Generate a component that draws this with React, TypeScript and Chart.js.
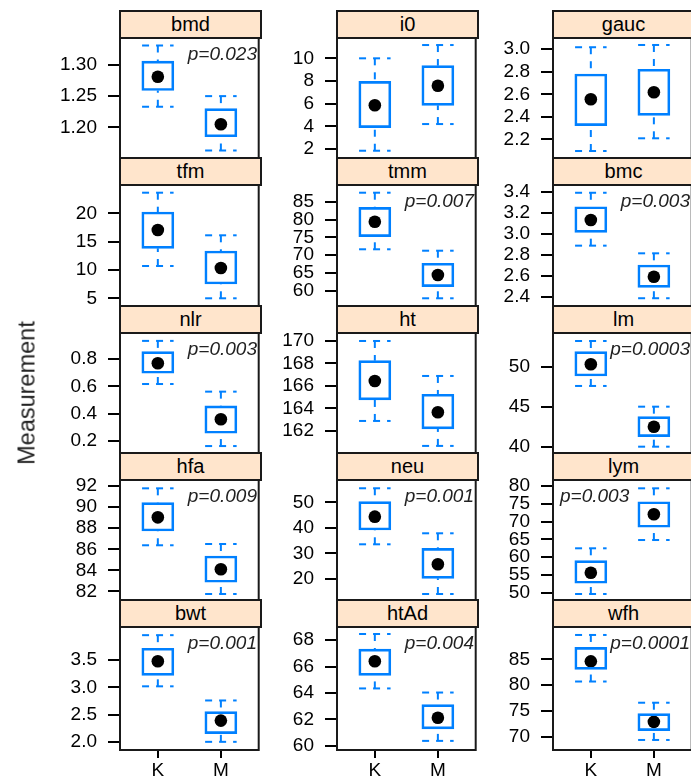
import React, { useEffect, useRef } from 'react';
import { Chart, registerables } from 'chart.js';

Chart.register(...registerables);

// ---------- data ----------
const groups = ['K', 'M'];
const yAxisTitle = 'Measurement';

// five-number summaries: [lower whisker, Q1, median, Q3, upper whisker]
const bmdK = [1.233, 1.259, 1.281, 1.306, 1.331];
const bmdM = [1.163, 1.185, 1.205, 1.23, 1.25];
const i0K = [1.86, 3.89, 5.86, 7.97, 10.0];
const i0M = [4.21, 5.86, 7.59, 9.35, 11.17];
const gaucK = [2.096, 2.321, 2.556, 2.78, 3.018];
const gaucM = [2.209, 2.413, 2.618, 2.822, 3.038];
const tfmK = [10.7, 13.82, 17.05, 20.23, 23.64];
const tfmM = [5.0, 7.52, 10.35, 13.35, 16.12];
const tmmK = [71.67, 75.2, 79.4, 83.43, 87.52];
const tmmM = [57.94, 61.2, 64.47, 67.75, 71.27];
const bmcK = [2.886, 3.013, 3.13, 3.257, 3.39];
const bmcM = [2.385, 2.489, 2.59, 2.702, 2.813];
const nlrK = [0.618, 0.697, 0.771, 0.856, 0.935];
const nlrM = [0.162, 0.256, 0.359, 0.457, 0.562];
const htK = [162.89, 164.76, 166.44, 168.25, 170.0];
const htM = [160.67, 162.18, 163.66, 165.26, 166.89];
const lmK = [47.59, 48.84, 50.3, 51.88, 53.21];
const lmM = [40.0, 41.25, 42.5, 43.75, 45.0];
const hfaK = [86.38, 87.73, 89.03, 90.42, 91.78];
const hfaM = [81.76, 82.87, 84.1, 85.36, 86.5];
const neuK = [33.59, 39.18, 44.38, 50.23, 55.47];
const neuM = [14.18, 20.31, 25.78, 32.03, 37.89];
const lymK = [49.63, 52.64, 55.62, 59.0, 62.48];
const lymM = [64.81, 68.39, 72.04, 75.58, 79.35];
const bwtK = [3.02, 3.22, 3.48, 3.72, 3.96];
const bwtM = [2.0, 2.15, 2.39, 2.556, 2.76];
const htAdK = [64.34, 65.33, 66.4, 67.31, 68.46];
const htAdM = [60.37, 61.28, 62.12, 63.11, 64.03];
const wfhK = [80.7, 83.05, 84.6, 87.3, 89.7];
const wfhM = [69.4, 71.2, 72.9, 74.5, 76.6];

// y tick labels per panel
const bmdTicks = ['1.20', '1.25', '1.30'];
const i0Ticks = ['2', '4', '6', '8', '10'];
const gaucTicks = ['2.2', '2.4', '2.6', '2.8', '3.0'];
const tfmTicks = ['5', '10', '15', '20'];
const tmmTicks = ['60', '65', '70', '75', '80', '85'];
const bmcTicks = ['2.4', '2.6', '2.8', '3.0', '3.2', '3.4'];
const nlrTicks = ['0.2', '0.4', '0.6', '0.8'];
const htTicks = ['162', '164', '166', '168', '170'];
const lmTicks = ['40', '45', '50'];
const hfaTicks = ['82', '84', '86', '88', '90', '92'];
const neuTicks = ['20', '30', '40', '50'];
const lymTicks = ['50', '55', '60', '65', '70', '75', '80'];
const bwtTicks = ['2.0', '2.5', '3.0', '3.5'];
const htAdTicks = ['60', '62', '64', '66', '68'];
const wfhTicks = ['70', '75', '80', '85'];

// y ranges per panel
const bmdRange = [1.151, 1.343];
const i0Range = [1.22, 11.79];
const gaucRange = [2.034, 3.1];
const tfmRange = [3.64, 25.0];
const tmmRange = [55.78, 89.68];
const bmcRange = [2.311, 3.464];
const nlrRange = [0.111, 0.993];
const htRange = [160.04, 170.71];
const lmRange = [39.21, 54.21];
const hfaRange = [81.19, 92.57];
const neuRange = [11.84, 58.7];
const lymRange = [47.94, 81.69];
const bwtRange = [1.85, 4.11];
const htAdRange = [59.68, 68.99];
const wfhRange = [67.46, 91.24];

const panelNames = ['bmd', 'i0', 'gauc', 'tfm', 'tmm', 'bmc', 'nlr', 'ht', 'lm', 'hfa', 'neu', 'lym', 'bwt', 'htAd', 'wfh'];
const pValues = ['p=0.023', '', '', '', 'p=0.007', 'p=0.003', 'p=0.003', '', 'p=0.0003', 'p=0.009', 'p=0.001', 'p=0.003', 'p=0.001', 'p=0.004', 'p=0.0001'];

const panelStats = [
  [bmdK, bmdM], [i0K, i0M], [gaucK, gaucM],
  [tfmK, tfmM], [tmmK, tmmM], [bmcK, bmcM],
  [nlrK, nlrM], [htK, htM], [lmK, lmM],
  [hfaK, hfaM], [neuK, neuM], [lymK, lymM],
  [bwtK, bwtM], [htAdK, htAdM], [wfhK, wfhM],
];
const panelTicks = [bmdTicks, i0Ticks, gaucTicks, tfmTicks, tmmTicks, bmcTicks, nlrTicks, htTicks, lmTicks, hfaTicks, neuTicks, lymTicks, bwtTicks, htAdTicks, wfhTicks];
const panelRanges = [bmdRange, i0Range, gaucRange, tfmRange, tmmRange, bmcRange, nlrRange, htRange, lmRange, hfaRange, neuRange, lymRange, bwtRange, htAdRange, wfhRange];

// ---------- layout / style ----------
const COL_LEFT = [120, 337, 553];
const PANEL_W = 141;
const STRIP_TOP = [11, 158, 306, 453, 600];
const STRIP_H = 27;
const PLOT_BOTTOM = [158, 306, 453, 600, 750];
const AXW = 100;
const PADT = 14;
const PADB = 14;
const PADR = 4;
const XAXH = 34;
const BLUE = '#0080ff';
const FONT = '"Liberation Sans", Arial, sans-serif';
const TICK_SIZE = 19;

type PanelProps = { idx: number };

function Panel({ idx }: PanelProps) {
  const ref = useRef<HTMLCanvasElement | null>(null);
  const row = Math.floor(idx / 3);
  const col = idx % 3;
  const isBottom = row === 4;
  const plotTop = STRIP_TOP[row] + STRIP_H;
  const plotH = PLOT_BOTTOM[row] - plotTop;
  const cw = AXW + PANEL_W + PADR;
  const ch = PADT + plotH + (isBottom ? XAXH : PADB);
  const stats = panelStats[idx];
  const ticks = panelTicks[idx];
  const range = panelRanges[idx];

  useEffect(() => {
    const canvas = ref.current;
    if (!canvas) return;
    const boxPx = (PANEL_W * 0.5) / 2.2;
    const boxPlugin = {
      id: 'bwWhiskers',
      beforeDatasetsDraw(chart: any) {
        const ctx = chart.ctx;
        const xs = chart.scales.x;
        const ys = chart.scales.y;
        ctx.save();
        ctx.strokeStyle = BLUE;
        ctx.lineWidth = 2;
        ctx.setLineDash([7, 7]);
        const seg = (x1: number, y1: number, x2: number, y2: number) => {
          ctx.beginPath();
          ctx.moveTo(x1, y1);
          ctx.lineTo(x2, y2);
          ctx.stroke();
        };
        stats.forEach((s: number[], i: number) => {
          const cx = xs.getPixelForValue(i + 1);
          const l = xs.getPixelForValue(i + 1 - 0.25);
          const r = xs.getPixelForValue(i + 1 + 0.25);
          const yLo = ys.getPixelForValue(s[0]);
          const yQ1 = ys.getPixelForValue(s[1]);
          const yQ3 = ys.getPixelForValue(s[3]);
          const yHi = ys.getPixelForValue(s[4]);
          seg(cx, yHi, cx, yQ3);
          seg(cx, yLo, cx, yQ1);
          seg(l, yHi, r, yHi);
          seg(l, yLo, r, yLo);
        });
        ctx.restore();
      },
      afterDraw(chart: any) {
        const ctx = chart.ctx;
        const a = chart.chartArea;
        ctx.save();
        ctx.strokeStyle = '#1a1a1a';
        ctx.lineWidth = 2;
        ctx.setLineDash([]);
        ctx.strokeRect(a.left, a.top, a.right - a.left, a.bottom - a.top);
        ctx.restore();
      },
    };

    const chart = new Chart(canvas, {
      type: 'bar',
      data: {
        datasets: [
          {
            type: 'bar',
            data: stats.map((s: number[], i: number) => ({ x: i + 1, y: [s[1], s[3]] })),
            backgroundColor: 'rgba(255,255,255,0)',
            borderColor: BLUE,
            borderWidth: 2,
            borderSkipped: false,
            barThickness: boxPx,
            grouped: false,
          } as any,
          {
            type: 'scatter',
            data: stats.map((s: number[], i: number) => ({ x: i + 1, y: s[2] })),
            pointRadius: 6.3,
            pointBackgroundColor: '#000',
            pointBorderColor: '#000',
            pointBorderWidth: 0,
          } as any,
        ],
      },
      options: {
        animation: false,
        responsive: false,
        devicePixelRatio: 1,
        layout: { padding: { top: PADT, bottom: isBottom ? 0 : PADB, left: 0, right: PADR } },
        plugins: { legend: { display: false }, tooltip: { enabled: false }, title: { display: false } },
        scales: {
          x: {
            type: 'linear',
            min: 0.4,
            max: 2.6,
            offset: false,
            display: isBottom,
            afterFit: (scale: any) => {
              scale.height = isBottom ? XAXH : 0;
              scale.paddingLeft = 0;
              scale.paddingRight = 0;
            },
            afterBuildTicks: (scale: any) => {
              scale.ticks = groups.map((_, i) => ({ value: i + 1 }));
            },
            ticks: {
              callback: (_v: any, i: number) => groups[i],
              font: { family: FONT, size: TICK_SIZE },
              color: '#000',
              padding: 1,
              maxRotation: 0,
              autoSkip: false,
            },
            grid: { display: true, drawOnChartArea: false, drawTicks: true, tickLength: 8, color: '#000', lineWidth: 2, offset: false },
            border: { display: false },
          },
          y: {
            type: 'linear',
            min: range[0],
            max: range[1],
            beginAtZero: false,
            afterFit: (scale: any) => {
              scale.width = AXW;
              scale.paddingTop = 0;
              scale.paddingBottom = 0;
            },
            afterBuildTicks: (scale: any) => {
              scale.ticks = ticks.map((t: string) => ({ value: parseFloat(t) }));
            },
            ticks: {
              callback: (_v: any, i: number) => ticks[i],
              font: { family: FONT, size: TICK_SIZE },
              color: '#000',
              padding: 11,
              autoSkip: false,
            },
            grid: { display: true, drawOnChartArea: false, drawTicks: true, tickLength: 12, color: '#000', lineWidth: 2 },
            border: { display: false },
          },
        },
      } as any,
      plugins: [boxPlugin],
    });
    return () => chart.destroy();
  }, []);

  const pText = pValues[idx];
  const pLeftSide = stats[0][2] < stats[1][2];
  const colLeft = COL_LEFT[col];

  return (
    <>
      <canvas
        ref={ref}
        width={cw}
        height={ch}
        style={{ position: 'absolute', left: colLeft - AXW, top: plotTop - PADT, width: cw, height: ch }}
      />
      <div
        style={{
          position: 'absolute',
          left: colLeft - 1,
          top: STRIP_TOP[row] - 1,
          width: PANEL_W + 2,
          height: STRIP_H + 2,
          boxSizing: 'border-box',
          border: '2px solid #1a1a1a',
          background: '#ffe5cc',
          textAlign: 'center',
          fontSize: 20,
          lineHeight: `${STRIP_H - 2}px`,
          color: '#000',
        }}
      >
        {panelNames[idx]}
      </div>
      {pText ? (
        <div
          style={{
            position: 'absolute',
            top: plotTop + 16,
            transform: 'translateY(-50%)',
            left: pLeftSide ? colLeft + 7 : undefined,
            right: pLeftSide ? undefined : 691 - (colLeft + 137),
            fontStyle: 'italic',
            fontSize: 19,
            color: '#222',
            whiteSpace: 'nowrap',
          }}
        >
          {pText}
        </div>
      ) : null}
    </>
  );
}

export default function App() {
  return (
    <div
      style={{
        position: 'fixed',
        left: 0,
        top: 0,
        width: 691,
        height: 780,
        overflow: 'hidden',
        background: '#fff',
        fontFamily: FONT,
      }}
    >
      {panelNames.map((_, i) => (
        <Panel key={i} idx={i} />
      ))}
      <div
        style={{
          position: 'absolute',
          left: 27,
          top: 393,
          transform: 'translate(-50%, -50%) rotate(-90deg)',
          fontSize: 23.5,
          whiteSpace: 'nowrap',
          color: '#222',
        }}
      >
        {yAxisTitle}
      </div>
    </div>
  );
}
